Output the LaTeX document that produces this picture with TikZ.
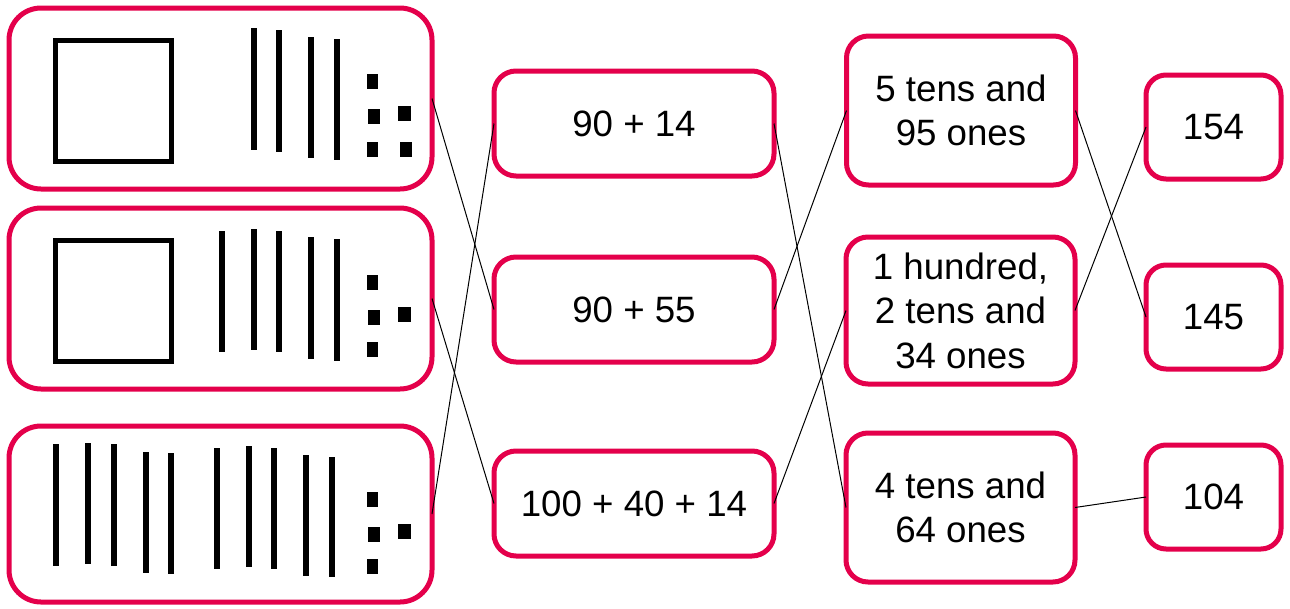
\documentclass[tikz,border=0pt]{standalone}
\usepackage{fontspec}
\setmainfont{Liberation Sans}
\newdimen\pxu \pxu=0.75pt
\definecolor{crim}{RGB}{228,0,75}
\newcommand{\myrod}[3]{\fill (#1-3,#2) rectangle (#1+3,#3);}
\newcommand{\myunit}[4]{\fill (#1,#2) rectangle (#3,#4);}
\begin{document}
\begin{tikzpicture}[x=0.75pt,y=-0.75pt,
  box/.style={draw=crim, line width=5\pxu, fill=white, inner sep=0pt, outer sep=0pt,
    align=center, font=\fontsize{27.5pt}{33.4pt}\selectfont},
  bigbox/.style={box, rounded corners=32\pxu},
  midbox/.style={box, rounded corners=22\pxu},
  smallbox/.style={box, rounded corners=20\pxu},
  conn/.style={draw=black, line width=0.75pt},
  blk/.style={draw=black, line width=5\pxu}]
\useasboundingbox (0,0) rectangle (1290,608);
% left column
\node[bigbox, minimum width=423\pxu, minimum height=181\pxu] (a1) at (220.5,98.5) {};
\node[bigbox, minimum width=423\pxu, minimum height=181\pxu] (a2) at (220.5,298.5) {};
\node[bigbox, minimum width=423\pxu, minimum height=176\pxu] (a3) at (220.5,514) {};
% second column
\node[midbox, minimum width=280\pxu, minimum height=105\pxu] (b1) at (634,123.5) {90 + 14};
\node[midbox, minimum width=280\pxu, minimum height=105\pxu] (b2) at (634,309.5) {90 + 55};
\node[midbox, minimum width=280\pxu, minimum height=105\pxu] (b3) at (634,503.5) {100 + 40 + 14};
% third column
\node[midbox, minimum width=229\pxu, minimum height=149\pxu] (c1) at (961,110.5) {5 tens and\\95 ones};
\node[midbox, minimum width=229\pxu, minimum height=147\pxu] (c2) at (960.5,310.5) {1 hundred,\\2 tens and\\34 ones};
\node[midbox, minimum width=229\pxu, minimum height=149\pxu] (c3) at (960.5,507.5) {4 tens and\\64 ones};
% fourth column
\node[smallbox, minimum width=135\pxu, minimum height=104\pxu] (d1) at (1213.5,127) {154};
\node[smallbox, minimum width=135\pxu, minimum height=104\pxu] (d2) at (1213.5,317) {145};
\node[smallbox, minimum width=135\pxu, minimum height=104\pxu] (d3) at (1213.5,497) {104};
% base-ten blocks, box 1
\draw[blk] (55,40) rectangle (171,161);
\myrod{253.7}{28.3}{150}
\myrod{279}{30}{151.7}
\myrod{311.3}{36.7}{158.3}
\myrod{336.7}{39}{160}
\myunit{366.7}{74}{378.3}{89.3}
\myunit{368.3}{109.3}{380}{124.3}
\myunit{398.3}{106}{410.7}{121}
\myunit{366.7}{141.7}{378.3}{156.7}
\myunit{400}{141.7}{412.3}{156.7}
% box 2
\draw[blk] (55,240) rectangle (171,361.5);
\myrod{221.8}{230.7}{351.7}
\myrod{253.7}{229}{350}
\myrod{279}{230.7}{351.7}
\myrod{311.3}{237.3}{359}
\myrod{336.7}{239}{360.7}
\myunit{366.7}{275}{378.3}{290}
\myunit{368.3}{310}{380}{325}
\myunit{398.3}{306.7}{410.7}{321.7}
\myunit{366.7}{341.7}{378.3}{356.7}
% box 3
\myrod{56.2}{444.3}{565.7}
\myrod{87.8}{443}{564.3}
\myrod{113.5}{444.3}{565.7}
\myrod{145.8}{451.7}{572.7}
\myrod{171.2}{453.3}{574.3}
\myrod{216.8}{447.7}{569}
\myrod{248.5}{446}{567.3}
\myrod{274.2}{447.7}{569}
\myrod{306.2}{455}{575.7}
\myrod{331.5}{456.7}{577.3}
\myunit{366.7}{491.7}{378.3}{506.7}
\myunit{368.3}{527.3}{380}{542.3}
\myunit{398.3}{524}{410.7}{539}
\myunit{366.7}{559.3}{378.3}{574.3}
% connectors
\draw[conn] (a1.east) -- (b2.west);
\draw[conn] (a2.east) -- (b3.west);
\draw[conn] (a3.east) -- (b1.west);
\draw[conn] (b1.east) -- (c3.west);
\draw[conn] (b2.east) -- (c1.west);
\draw[conn] (b3.east) -- (c2.west);
\draw[conn] (c1.east) -- (d2.west);
\draw[conn] (c2.east) -- (d1.west);
\draw[conn] (c3.east) -- (d3.west);
\end{tikzpicture}
\end{document}
